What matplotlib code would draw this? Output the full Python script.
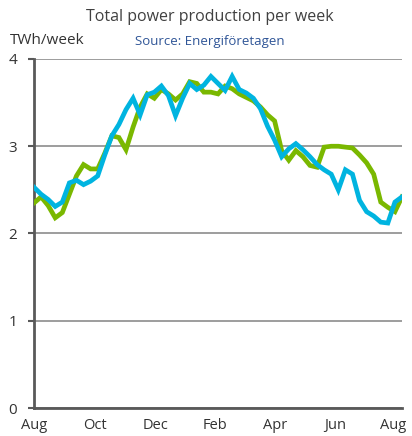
import matplotlib
matplotlib.use("Agg")
import matplotlib.pyplot as plt
import numpy as np

tick_labels = ["Aug", "Oct", "Dec", "Feb", "Apr", "Jun", "Aug"]
tick_pos = [0, 8.6, 17.1, 25.6, 34.1, 42.5, 50.8]

green = [2.35, 2.42, 2.32, 2.18, 2.24, 2.45, 2.66, 2.79, 2.74, 2.74,
         2.92, 3.12, 3.10, 2.96, 3.22, 3.45, 3.60, 3.55, 3.65, 3.60,
         3.53, 3.60, 3.74, 3.72, 3.62, 3.62, 3.60, 3.69, 3.66, 3.60,
         3.56, 3.52, 3.45, 3.36, 3.29, 2.95, 2.84, 2.95, 2.88, 2.78,
         2.76, 2.99, 3.00, 3.00, 2.99, 2.98, 2.90, 2.81, 2.68, 2.36,
         2.30, 2.25, 2.42]
blue = [2.53, 2.45, 2.39, 2.31, 2.36, 2.58, 2.61, 2.56, 2.60, 2.66,
        2.90, 3.12, 3.25, 3.42, 3.55, 3.36, 3.59, 3.62, 3.69, 3.58,
        3.35, 3.55, 3.72, 3.65, 3.70, 3.80, 3.72, 3.64, 3.80, 3.65,
        3.61, 3.55, 3.43, 3.23, 3.07, 2.88, 2.97, 3.03, 2.96, 2.88,
        2.79, 2.73, 2.68, 2.50, 2.73, 2.68, 2.38, 2.25, 2.20, 2.13,
        2.12, 2.36, 2.42]

W, H = 412, 436
fig = plt.figure(figsize=(W/100, H/100), dpi=100)
ax = fig.add_axes([34/W, 1-408/H, (402-34)/W, (408-59)/H])

x = np.arange(len(green))
ax.plot(x, green, color="#7AB800", lw=3.4, solid_joinstyle="miter", zorder=3)
ax.plot(x, blue, color="#00B4E0", lw=3.4, solid_joinstyle="miter", zorder=4)

ax.set_xlim(0, len(green)-1)
ax.set_ylim(0, 4)
ax.set_yticks([0, 1, 2, 3, 4])
ax.set_yticklabels(["0", "1", "2", "3", "4"])
ax.set_xticks(tick_pos)
ax.set_xticklabels(tick_labels)
ax.tick_params(axis="x", length=0, pad=7, labelsize=10.5, colors="#333333")
ax.tick_params(axis="y", length=4, width=1.5, color="#595959", pad=8, labelsize=11, labelcolor="#333333")
for lab in ax.get_xticklabels() + ax.get_yticklabels():
    lab.set_fontfamily("Open Sans")

ax.grid(axis="y", color="#8C8C8C", lw=1.2)
ax.set_axisbelow(True)
for s in ["top", "right"]:
    ax.spines[s].set_visible(False)
for s in ["left", "bottom"]:
    ax.spines[s].set_color("#595959")
    ax.spines[s].set_linewidth(2)

fig.text(210/W, 1-17/H, "Total power production per week", ha="center", va="center",
         fontsize=11.5, color="#404040", family="Open Sans")
fig.text(10/W, 1-40/H, "TWh/week", ha="left", va="center",
         fontsize=11, color="#333333", family="Open Sans")
fig.text(210/W, 1-42/H, "Source: Energiföretagen", ha="center", va="center",
         fontsize=9.5, color="#2F5597", family="Open Sans")

fig.savefig("out.png", dpi=100)
